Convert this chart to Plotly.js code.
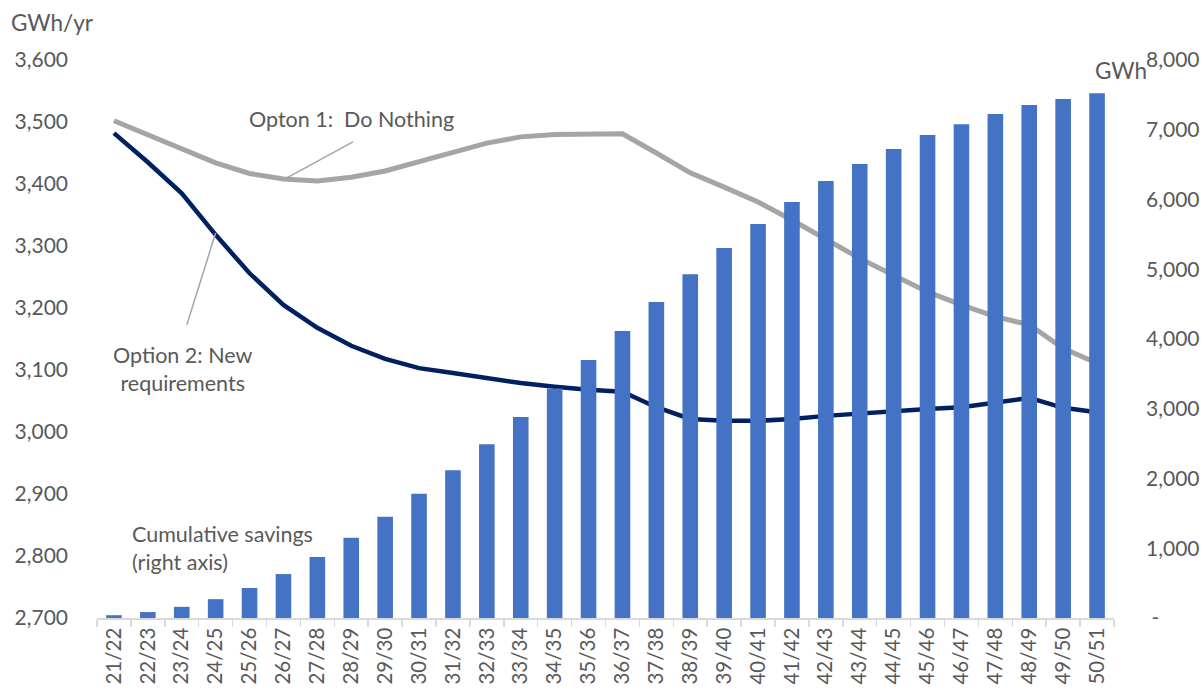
<!DOCTYPE html>
<html>
<head>
<meta charset="utf-8">
<script src="https://cdn.plot.ly/plotly-3.0.1.min.js"></script>
<style>html,body{margin:0;padding:0;background:#fff;}#chart{width:1203px;height:690px;}</style>
</head>
<body>
<div id="chart"></div>
<script>
const categories = ["21/22","22/23","23/24","24/25","25/26","26/27","27/28","28/29","29/30","30/31",
  "31/32","32/33","33/34","34/35","35/36","36/37","37/38","38/39","39/40","40/41",
  "41/42","42/43","43/44","44/45","45/46","46/47","47/48","48/49","49/50","50/51"];
const cumulativeSavings = [40,85,160,270,430,630,875,1150,1450,1780,
  2120,2490,2880,3290,3700,4115,4530,4930,5305,5650,
  5965,6265,6510,6725,6925,7080,7225,7355,7440,7525];
const option1DoNothing = [3502,3479,3455,3434,3417,3408,3405,3411,3421,3435,
  3451,3466,3476,3480,3481,3481,3450,3418,3395,3371,
  3342,3310,3280,3253,3226,3205,3186,3173,3135,3111];
const option2NewReq = [3482,3435,3385,3318,3256,3205,3168,3139,3118,3103,
  3095,3087,3079,3073,3068,3065,3040,3021,3018,3018,
  3021,3026,3030,3034,3037,3040,3047,3055,3039,3032];
const leftTicks = [2700,2800,2900,3000,3100,3200,3300,3400,3500,3600];
const leftTickText = ["2,700","2,800","2,900","3,000","3,100","3,200","3,300","3,400","3,500","3,600"];
const rightTicks = [0,1000,2000,3000,4000,5000,6000,7000,8000];
const rightTickText = ["\u00a0-","1,000","2,000","3,000","4,000","5,000","6,000","7,000","8,000"];

const FONT = "Lato, 'Open Sans', sans-serif";
const TXT = "#595959";

const traces = [
  {type:"bar", x:categories, y:cumulativeSavings, yaxis:"y2", name:"Cumulative savings",
   marker:{color:"#4472C4"}, width:0.46, hoverinfo:"y"},
  {type:"scatter", mode:"lines", x:categories, y:option1DoNothing, yaxis:"y", name:"Option 1",
   line:{color:"#A5A5A5", width:5}},
  {type:"scatter", mode:"lines", x:categories, y:option2NewReq, yaxis:"y", name:"Option 2",
   line:{color:"#002060", width:4.5}}
];

const layout = {
  width:1203, height:690,
  margin:{l:97, r:89, t:60, b:72},
  paper_bgcolor:"#fff", plot_bgcolor:"#fff",
  showlegend:false,
  font:{family:FONT, color:TXT, size:21},
  bargap:0.5,
  xaxis:{type:"category", showgrid:false, zeroline:false, showline:true, linecolor:"#D9D9D9", linewidth:1.5,
    ticks:"outside", tickson:"boundaries", ticklen:7, tickcolor:"#D9D9D9", tickwidth:1.5,
    tickangle:-90, tickfont:{size:20.5, color:TXT, family:FONT}, range:[-0.5,29.5], fixedrange:true},
  yaxis:{range:[2700,3600], tickvals:leftTicks, ticktext:leftTickText, showgrid:false, zeroline:false,
    showline:false, ticks:"", ticklabelstandoff:28, tickfont:{size:21, color:TXT, family:FONT}},
  yaxis2:{range:[0,8000], overlaying:"y", side:"right", tickvals:rightTicks, ticktext:rightTickText,
    showgrid:false, zeroline:false, showline:false, ticks:"", ticklabelstandoff:31,
    tickfont:{size:21, color:TXT, family:FONT}},
  annotations:[
    {xref:"paper", yref:"paper", x:-0.087, y:1.068, xanchor:"left", yanchor:"middle", text:"GWh/yr",
     showarrow:false, font:{size:22.5, color:TXT, family:FONT}},
    {xref:"paper", yref:"paper", x:1.034, y:0.982, xanchor:"right", yanchor:"middle", text:"GWh",
     showarrow:false, font:{size:22.5, color:TXT, family:FONT}},
    {xref:"x", yref:"y", x:7.02, y:3505, xanchor:"center", yanchor:"middle", text:"Opton 1:\u00a0 Do Nothing",
     showarrow:false, font:{size:21.5, color:TXT, family:FONT}},
    {xref:"x", yref:"y", x:2.04, y:3101, xanchor:"center", yanchor:"middle", text:"Option 2: New<br>requirements",
     showarrow:false, font:{size:21.5, color:TXT, family:FONT}},
    {xref:"x", yref:"y", x:0.47, y:2813, xanchor:"left", yanchor:"middle", align:"left",
     text:"Cumulative savings<br>(right axis)", showarrow:false, font:{size:21.5, color:TXT, family:FONT}}
  ],
  shapes:[
    {type:"line", xref:"x", yref:"y", x0:7.05, y0:3468, x1:5.10, y1:3410, line:{color:"#A5A5A5", width:1.5}},
    {type:"line", xref:"x", yref:"y", x0:2.15, y0:3173, x1:3.0, y1:3321, line:{color:"#A5A5A5", width:1.5}}
  ]
};

Plotly.newPlot("chart", traces, layout, {displayModeBar:false, staticPlot:true});
</script>
</body>
</html>
